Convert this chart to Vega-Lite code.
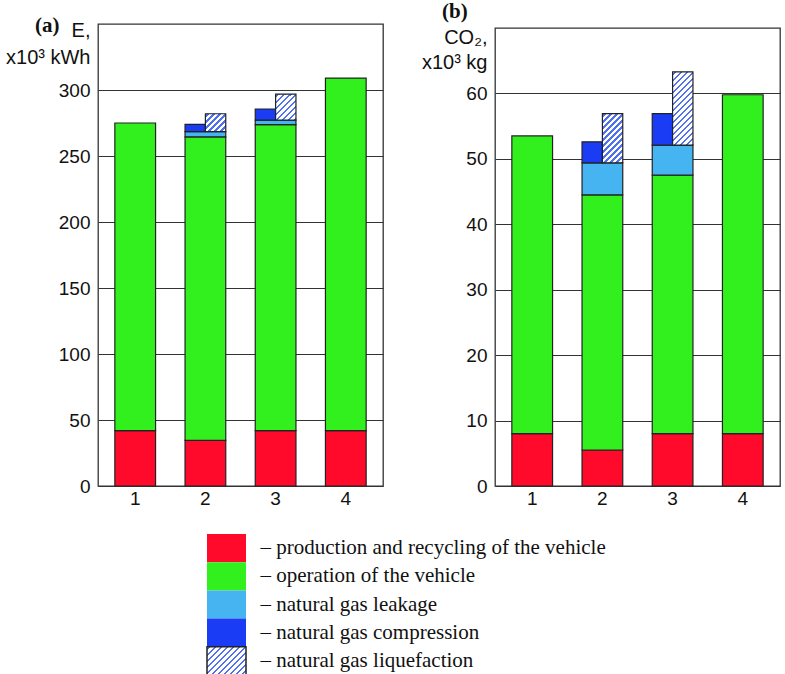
{
  "$schema": "https://vega.github.io/schema/vega-lite/v6.json",
  "padding": {"left": 4, "top": 0, "right": 0, "bottom": 0},
  "autosize": {"type": "pad"},
  "background": "white",
  "datasets": {
    "bars": [
      {"panel": "a", "bar": "1", "comp": "prod", "side": "F", "lo": 0, "hi": 42},
      {"panel": "a", "bar": "1", "comp": "op", "side": "F", "lo": 42, "hi": 275},
      {"panel": "a", "bar": "2", "comp": "prod", "side": "F", "lo": 0, "hi": 34.5},
      {"panel": "a", "bar": "2", "comp": "op", "side": "F", "lo": 34.5, "hi": 264.5},
      {"panel": "a", "bar": "2", "comp": "leak", "side": "F", "lo": 264.5, "hi": 268.5},
      {"panel": "a", "bar": "2", "comp": "comp", "side": "L", "lo": 268.5, "hi": 274},
      {"panel": "a", "bar": "2", "comp": "liq", "side": "R", "lo": 268.5, "hi": 282},
      {"panel": "a", "bar": "3", "comp": "prod", "side": "F", "lo": 0, "hi": 42},
      {"panel": "a", "bar": "3", "comp": "op", "side": "F", "lo": 42, "hi": 273.7},
      {"panel": "a", "bar": "3", "comp": "leak", "side": "F", "lo": 273.7, "hi": 277.2},
      {"panel": "a", "bar": "3", "comp": "comp", "side": "L", "lo": 277.2, "hi": 285.6},
      {"panel": "a", "bar": "3", "comp": "liq", "side": "R", "lo": 277.2, "hi": 296.8},
      {"panel": "a", "bar": "4", "comp": "prod", "side": "F", "lo": 0, "hi": 42},
      {"panel": "a", "bar": "4", "comp": "op", "side": "F", "lo": 42, "hi": 309},
      {"panel": "b", "bar": "1", "comp": "prod", "side": "F", "lo": 0, "hi": 8},
      {"panel": "b", "bar": "1", "comp": "op", "side": "F", "lo": 8, "hi": 53.5},
      {"panel": "b", "bar": "2", "comp": "prod", "side": "F", "lo": 0, "hi": 5.5},
      {"panel": "b", "bar": "2", "comp": "op", "side": "F", "lo": 5.5, "hi": 44.5},
      {"panel": "b", "bar": "2", "comp": "leak", "side": "F", "lo": 44.5, "hi": 49.4},
      {"panel": "b", "bar": "2", "comp": "comp", "side": "L", "lo": 49.4, "hi": 52.6},
      {"panel": "b", "bar": "2", "comp": "liq", "side": "R", "lo": 49.4, "hi": 56.9},
      {"panel": "b", "bar": "3", "comp": "prod", "side": "F", "lo": 0, "hi": 8},
      {"panel": "b", "bar": "3", "comp": "op", "side": "F", "lo": 8, "hi": 47.5},
      {"panel": "b", "bar": "3", "comp": "leak", "side": "F", "lo": 47.5, "hi": 52.1},
      {"panel": "b", "bar": "3", "comp": "comp", "side": "L", "lo": 52.1, "hi": 56.9},
      {"panel": "b", "bar": "3", "comp": "liq", "side": "R", "lo": 52.1, "hi": 63.3},
      {"panel": "b", "bar": "4", "comp": "prod", "side": "F", "lo": 0, "hi": 8},
      {"panel": "b", "bar": "4", "comp": "op", "side": "F", "lo": 8, "hi": 59.8}
    ],
    "legend": [
      {"comp": "prod", "label": "– production and recycling of the vehicle"},
      {"comp": "op", "label": "– operation of the vehicle"},
      {"comp": "leak", "label": "– natural gas leakage"},
      {"comp": "comp", "label": "– natural gas compression"},
      {"comp": "liq", "label": "– natural gas liquefaction"}
    ]
  },
  "vconcat": [
    {
      "hconcat": [
        {
          "width": 285,
          "height": 462,
          "data": {"name": "bars"},
          "transform": [{"filter": "datum.panel == 'a'"}],
          "title": {"text": "(a)", "anchor": "start", "frame": "group", "orient": "top", "font": "Liberation Serif", "fontWeight": "bold", "fontSize": 21, "color": "#111", "baseline": "alphabetic", "offset": 0, "dx": -63, "dy": 33},
          "encoding": {
            "x": {"field": "bar", "type": "nominal", "scale": {"paddingInner": 0.42, "paddingOuter": 0.24}, "axis": {"title": null, "labelAngle": 0, "ticks": false, "domain": false, "grid": false, "labelPadding": 3}},
            "y": {"field": "lo", "type": "quantitative", "scale": {"domain": [0, 350], "nice": false},
              "axis": {"values": [0, 50, 100, 150, 200, 250, 300], "title": ["E,", "x10³ kWh"], "titleAngle": 0, "titleAlign": "right", "titleBaseline": "alphabetic", "titleX": -8, "titleY": 12, "titleLineHeight": 27, "grid": true, "ticks": false, "domain": false, "labelPadding": 8}},
            "y2": {"field": "hi"}
          },
          "layer": [
            {
              "transform": [{"filter": "datum.side == 'F'"}],
              "mark": {"type": "bar", "stroke": "#222", "strokeWidth": 1.2},
              "encoding": {
                "fill": {"field": "comp", "type": "nominal", "scale": {"domain": ["prod", "op", "leak", "comp", "liq"], "range": ["#ff0a2a", "#32f01e", "#46b4f0", "#1a3cf5", "#ffffff"]}, "legend": null}
              }
            },
            {
              "transform": [{"filter": "datum.side != 'F'"}],
              "mark": {"type": "bar", "stroke": "#222", "strokeWidth": 1.2},
              "encoding": {
                "xOffset": {"field": "side", "type": "nominal", "scale": {"domain": ["L", "R"], "paddingInner": 0, "paddingOuter": 0}},
                "fill": {
                  "condition": [
                    {"test": "datum.comp == 'liq' && datum.bar == '2'", "value": {"gradient": "linear", "x1": 0, "y1": 0, "x2": 2.673, "y2": 2.338, "stops": [
                      {"offset": 0.01875, "color": "#fff"}, {"offset": 0.01875, "color": "#5070ee"}, {"offset": 0.04375, "color": "#5070ee"}, {"offset": 0.04375, "color": "#fff"},
                      {"offset": 0.08125, "color": "#fff"}, {"offset": 0.08125, "color": "#5070ee"}, {"offset": 0.10625, "color": "#5070ee"}, {"offset": 0.10625, "color": "#fff"},
                      {"offset": 0.14375, "color": "#fff"}, {"offset": 0.14375, "color": "#5070ee"}, {"offset": 0.16875, "color": "#5070ee"}, {"offset": 0.16875, "color": "#fff"},
                      {"offset": 0.20625, "color": "#fff"}, {"offset": 0.20625, "color": "#5070ee"}, {"offset": 0.23125, "color": "#5070ee"}, {"offset": 0.23125, "color": "#fff"},
                      {"offset": 0.26875, "color": "#fff"}, {"offset": 0.26875, "color": "#5070ee"}, {"offset": 0.29375, "color": "#5070ee"}, {"offset": 0.29375, "color": "#fff"},
                      {"offset": 0.33125, "color": "#fff"}, {"offset": 0.33125, "color": "#5070ee"}, {"offset": 0.35625, "color": "#5070ee"}, {"offset": 0.35625, "color": "#fff"},
                      {"offset": 0.39375, "color": "#fff"}, {"offset": 0.39375, "color": "#5070ee"}, {"offset": 0.41875, "color": "#5070ee"}, {"offset": 0.41875, "color": "#fff"}
                    ]}},
                    {"test": "datum.comp == 'liq'", "value": {"gradient": "linear", "x1": 0, "y1": 0, "x2": 1.758, "y2": 2.281, "stops": [
                      {"offset": 0.01875, "color": "#fff"}, {"offset": 0.01875, "color": "#5070ee"}, {"offset": 0.04375, "color": "#5070ee"}, {"offset": 0.04375, "color": "#fff"},
                      {"offset": 0.08125, "color": "#fff"}, {"offset": 0.08125, "color": "#5070ee"}, {"offset": 0.10625, "color": "#5070ee"}, {"offset": 0.10625, "color": "#fff"},
                      {"offset": 0.14375, "color": "#fff"}, {"offset": 0.14375, "color": "#5070ee"}, {"offset": 0.16875, "color": "#5070ee"}, {"offset": 0.16875, "color": "#fff"},
                      {"offset": 0.20625, "color": "#fff"}, {"offset": 0.20625, "color": "#5070ee"}, {"offset": 0.23125, "color": "#5070ee"}, {"offset": 0.23125, "color": "#fff"},
                      {"offset": 0.26875, "color": "#fff"}, {"offset": 0.26875, "color": "#5070ee"}, {"offset": 0.29375, "color": "#5070ee"}, {"offset": 0.29375, "color": "#fff"},
                      {"offset": 0.33125, "color": "#fff"}, {"offset": 0.33125, "color": "#5070ee"}, {"offset": 0.35625, "color": "#5070ee"}, {"offset": 0.35625, "color": "#fff"},
                      {"offset": 0.39375, "color": "#fff"}, {"offset": 0.39375, "color": "#5070ee"}, {"offset": 0.41875, "color": "#5070ee"}, {"offset": 0.41875, "color": "#fff"},
                      {"offset": 0.45625, "color": "#fff"}, {"offset": 0.45625, "color": "#5070ee"}, {"offset": 0.48125, "color": "#5070ee"}, {"offset": 0.48125, "color": "#fff"}
                    ]}}
                  ],
                  "field": "comp", "type": "nominal", "scale": {"domain": ["prod", "op", "leak", "comp", "liq"], "range": ["#ff0a2a", "#32f01e", "#46b4f0", "#1a3cf5", "#ffffff"]}, "legend": null
                }
              }
            }
          ]
        },
        {
          "vconcat": [
            {"width": 285, "height": 4, "data": {"values": []}, "mark": "point", "encoding": {}, "view": {"stroke": null}},
            {
              "width": 285,
              "height": 458,
              "data": {"name": "bars"},
              "transform": [{"filter": "datum.panel == 'b'"}],
              "title": {"text": "(b)", "anchor": "start", "frame": "group", "orient": "top", "font": "Liberation Serif", "fontWeight": "bold", "fontSize": 21, "color": "#111", "baseline": "alphabetic", "offset": 0, "dx": -53, "dy": 12},
              "encoding": {
                "x": {"field": "bar", "type": "nominal", "scale": {"paddingInner": 0.42, "paddingOuter": 0.24}, "axis": {"title": null, "labelAngle": 0, "ticks": false, "domain": false, "grid": false, "labelPadding": 3}},
                "y": {"field": "lo", "type": "quantitative", "scale": {"domain": [0, 70], "nice": false},
                  "axis": {"values": [0, 10, 20, 30, 40, 50, 60], "title": ["CO₂,", "x10³ kg"], "titleAngle": 0, "titleAlign": "right", "titleBaseline": "alphabetic", "titleX": -8, "titleY": 15, "titleLineHeight": 25, "grid": true, "ticks": false, "domain": false, "labelPadding": 8}},
                "y2": {"field": "hi"}
              },
              "layer": [
                {
                  "transform": [{"filter": "datum.side == 'F'"}],
                  "mark": {"type": "bar", "stroke": "#222", "strokeWidth": 1.2},
                  "encoding": {
                    "fill": {"field": "comp", "type": "nominal", "scale": {"domain": ["prod", "op", "leak", "comp", "liq"], "range": ["#ff0a2a", "#32f01e", "#46b4f0", "#1a3cf5", "#ffffff"]}, "legend": null}
                  }
                },
                {
                  "transform": [{"filter": "datum.side != 'F'"}],
                  "mark": {"type": "bar", "stroke": "#222", "strokeWidth": 1.2},
                  "encoding": {
                    "xOffset": {"field": "side", "type": "nominal", "scale": {"domain": ["L", "R"], "paddingInner": 0, "paddingOuter": 0}},
                    "fill": {
                      "condition": [
                        {"test": "datum.comp == 'liq' && datum.bar == '2'", "value": {"gradient": "linear", "x1": 0, "y1": 0, "x2": 0.694, "y2": 1.671, "stops": [
                          {"offset": 0.01875, "color": "#fff"}, {"offset": 0.01875, "color": "#5070ee"}, {"offset": 0.04375, "color": "#5070ee"}, {"offset": 0.04375, "color": "#fff"},
                          {"offset": 0.08125, "color": "#fff"}, {"offset": 0.08125, "color": "#5070ee"}, {"offset": 0.10625, "color": "#5070ee"}, {"offset": 0.10625, "color": "#fff"},
                          {"offset": 0.14375, "color": "#fff"}, {"offset": 0.14375, "color": "#5070ee"}, {"offset": 0.16875, "color": "#5070ee"}, {"offset": 0.16875, "color": "#fff"},
                          {"offset": 0.20625, "color": "#fff"}, {"offset": 0.20625, "color": "#5070ee"}, {"offset": 0.23125, "color": "#5070ee"}, {"offset": 0.23125, "color": "#fff"},
                          {"offset": 0.26875, "color": "#fff"}, {"offset": 0.26875, "color": "#5070ee"}, {"offset": 0.29375, "color": "#5070ee"}, {"offset": 0.29375, "color": "#fff"},
                          {"offset": 0.33125, "color": "#fff"}, {"offset": 0.33125, "color": "#5070ee"}, {"offset": 0.35625, "color": "#5070ee"}, {"offset": 0.35625, "color": "#fff"},
                          {"offset": 0.39375, "color": "#fff"}, {"offset": 0.39375, "color": "#5070ee"}, {"offset": 0.41875, "color": "#5070ee"}, {"offset": 0.41875, "color": "#fff"},
                          {"offset": 0.45625, "color": "#fff"}, {"offset": 0.45625, "color": "#5070ee"}, {"offset": 0.48125, "color": "#5070ee"}, {"offset": 0.48125, "color": "#fff"},
                          {"offset": 0.51875, "color": "#fff"}, {"offset": 0.51875, "color": "#5070ee"}, {"offset": 0.54375, "color": "#5070ee"}, {"offset": 0.54375, "color": "#fff"},
                          {"offset": 0.58125, "color": "#fff"}, {"offset": 0.58125, "color": "#5070ee"}, {"offset": 0.60625, "color": "#5070ee"}, {"offset": 0.60625, "color": "#fff"},
                          {"offset": 0.64375, "color": "#fff"}, {"offset": 0.64375, "color": "#5070ee"}, {"offset": 0.66875, "color": "#5070ee"}, {"offset": 0.66875, "color": "#fff"},
                          {"offset": 0.70625, "color": "#fff"}, {"offset": 0.70625, "color": "#5070ee"}, {"offset": 0.73125, "color": "#5070ee"}, {"offset": 0.73125, "color": "#fff"}
                        ]}},
                        {"test": "datum.comp == 'liq'", "value": {"gradient": "linear", "x1": 0, "y1": 0, "x2": 0.3376, "y2": 1.216, "stops": [
                          {"offset": 0.01875, "color": "#fff"}, {"offset": 0.01875, "color": "#5070ee"}, {"offset": 0.04375, "color": "#5070ee"}, {"offset": 0.04375, "color": "#fff"},
                          {"offset": 0.08125, "color": "#fff"}, {"offset": 0.08125, "color": "#5070ee"}, {"offset": 0.10625, "color": "#5070ee"}, {"offset": 0.10625, "color": "#fff"},
                          {"offset": 0.14375, "color": "#fff"}, {"offset": 0.14375, "color": "#5070ee"}, {"offset": 0.16875, "color": "#5070ee"}, {"offset": 0.16875, "color": "#fff"},
                          {"offset": 0.20625, "color": "#fff"}, {"offset": 0.20625, "color": "#5070ee"}, {"offset": 0.23125, "color": "#5070ee"}, {"offset": 0.23125, "color": "#fff"},
                          {"offset": 0.26875, "color": "#fff"}, {"offset": 0.26875, "color": "#5070ee"}, {"offset": 0.29375, "color": "#5070ee"}, {"offset": 0.29375, "color": "#fff"},
                          {"offset": 0.33125, "color": "#fff"}, {"offset": 0.33125, "color": "#5070ee"}, {"offset": 0.35625, "color": "#5070ee"}, {"offset": 0.35625, "color": "#fff"},
                          {"offset": 0.39375, "color": "#fff"}, {"offset": 0.39375, "color": "#5070ee"}, {"offset": 0.41875, "color": "#5070ee"}, {"offset": 0.41875, "color": "#fff"},
                          {"offset": 0.45625, "color": "#fff"}, {"offset": 0.45625, "color": "#5070ee"}, {"offset": 0.48125, "color": "#5070ee"}, {"offset": 0.48125, "color": "#fff"},
                          {"offset": 0.51875, "color": "#fff"}, {"offset": 0.51875, "color": "#5070ee"}, {"offset": 0.54375, "color": "#5070ee"}, {"offset": 0.54375, "color": "#fff"},
                          {"offset": 0.58125, "color": "#fff"}, {"offset": 0.58125, "color": "#5070ee"}, {"offset": 0.60625, "color": "#5070ee"}, {"offset": 0.60625, "color": "#fff"},
                          {"offset": 0.64375, "color": "#fff"}, {"offset": 0.64375, "color": "#5070ee"}, {"offset": 0.66875, "color": "#5070ee"}, {"offset": 0.66875, "color": "#fff"},
                          {"offset": 0.70625, "color": "#fff"}, {"offset": 0.70625, "color": "#5070ee"}, {"offset": 0.73125, "color": "#5070ee"}, {"offset": 0.73125, "color": "#fff"},
                          {"offset": 0.76875, "color": "#fff"}, {"offset": 0.76875, "color": "#5070ee"}, {"offset": 0.79375, "color": "#5070ee"}, {"offset": 0.79375, "color": "#fff"},
                          {"offset": 0.83125, "color": "#fff"}, {"offset": 0.83125, "color": "#5070ee"}, {"offset": 0.85625, "color": "#5070ee"}, {"offset": 0.85625, "color": "#fff"},
                          {"offset": 0.89375, "color": "#fff"}, {"offset": 0.89375, "color": "#5070ee"}, {"offset": 0.91875, "color": "#5070ee"}, {"offset": 0.91875, "color": "#fff"},
                          {"offset": 0.95625, "color": "#fff"}, {"offset": 0.95625, "color": "#5070ee"}, {"offset": 0.98125, "color": "#5070ee"}, {"offset": 0.98125, "color": "#fff"}
                        ]}}
                      ],
                      "field": "comp", "type": "nominal", "scale": {"domain": ["prod", "op", "leak", "comp", "liq"], "range": ["#ff0a2a", "#32f01e", "#46b4f0", "#1a3cf5", "#ffffff"]}, "legend": null
                    }
                  }
                }
              ]
            }
          ],
          "spacing": 0,
          "bounds": "flush"
        }
      ],
      "spacing": 112,
      "bounds": "flush"
    },
    {
      "hconcat": [
        {"width": 109, "height": 141, "data": {"values": []}, "mark": "point", "encoding": {}, "view": {"stroke": null}},
        {
          "width": 39,
          "height": 141,
          "data": {"name": "legend"},
          "view": {"stroke": null},
          "mark": {"type": "rect", "strokeWidth": 1.5},
          "encoding": {
            "y": {"field": "label", "type": "nominal", "sort": null, "scale": {"paddingInner": 0, "paddingOuter": 0},
              "axis": {"orient": "right", "title": null, "ticks": false, "domain": false, "grid": false, "labelPadding": 14, "labelFont": "Liberation Serif", "labelFontSize": 21, "labelLimit": 0, "labelColor": "#111"}},
            "fill": {
              "condition": {"test": "datum.comp == 'liq'", "value": {"gradient": "linear", "x1": 0, "y1": 0, "x2": 1.6046, "y2": 1.1726, "stops": [
                {"offset": 0.01875, "color": "#fff"}, {"offset": 0.01875, "color": "#5070ee"}, {"offset": 0.04375, "color": "#5070ee"}, {"offset": 0.04375, "color": "#fff"},
                {"offset": 0.08125, "color": "#fff"}, {"offset": 0.08125, "color": "#5070ee"}, {"offset": 0.10625, "color": "#5070ee"}, {"offset": 0.10625, "color": "#fff"},
                {"offset": 0.14375, "color": "#fff"}, {"offset": 0.14375, "color": "#5070ee"}, {"offset": 0.16875, "color": "#5070ee"}, {"offset": 0.16875, "color": "#fff"},
                {"offset": 0.20625, "color": "#fff"}, {"offset": 0.20625, "color": "#5070ee"}, {"offset": 0.23125, "color": "#5070ee"}, {"offset": 0.23125, "color": "#fff"},
                {"offset": 0.26875, "color": "#fff"}, {"offset": 0.26875, "color": "#5070ee"}, {"offset": 0.29375, "color": "#5070ee"}, {"offset": 0.29375, "color": "#fff"},
                {"offset": 0.33125, "color": "#fff"}, {"offset": 0.33125, "color": "#5070ee"}, {"offset": 0.35625, "color": "#5070ee"}, {"offset": 0.35625, "color": "#fff"},
                {"offset": 0.39375, "color": "#fff"}, {"offset": 0.39375, "color": "#5070ee"}, {"offset": 0.41875, "color": "#5070ee"}, {"offset": 0.41875, "color": "#fff"},
                {"offset": 0.45625, "color": "#fff"}, {"offset": 0.45625, "color": "#5070ee"}, {"offset": 0.48125, "color": "#5070ee"}, {"offset": 0.48125, "color": "#fff"},
                {"offset": 0.51875, "color": "#fff"}, {"offset": 0.51875, "color": "#5070ee"}, {"offset": 0.54375, "color": "#5070ee"}, {"offset": 0.54375, "color": "#fff"},
                {"offset": 0.58125, "color": "#fff"}, {"offset": 0.58125, "color": "#5070ee"}, {"offset": 0.60625, "color": "#5070ee"}, {"offset": 0.60625, "color": "#fff"},
                {"offset": 0.64375, "color": "#fff"}, {"offset": 0.64375, "color": "#5070ee"}, {"offset": 0.66875, "color": "#5070ee"}, {"offset": 0.66875, "color": "#fff"},
                {"offset": 0.70625, "color": "#fff"}, {"offset": 0.70625, "color": "#5070ee"}, {"offset": 0.73125, "color": "#5070ee"}, {"offset": 0.73125, "color": "#fff"}
              ]}},
              "field": "comp", "type": "nominal", "scale": {"domain": ["prod", "op", "leak", "comp", "liq"], "range": ["#ff0a2a", "#32f01e", "#46b4f0", "#1a3cf5", "#ffffff"]}, "legend": null
            },
            "stroke": {"condition": {"test": "datum.comp == 'liq'", "value": "#222"}, "value": null}
          }
        }
      ],
      "spacing": 0,
      "bounds": "flush"
    }
  ],
  "spacing": 25,
  "bounds": "full",
  "config": {
    "view": {"stroke": "#333", "strokeWidth": 1.3},
    "axis": {"labelFont": "Liberation Sans", "labelFontSize": 19, "labelColor": "#111", "titleFont": "Liberation Sans", "titleFontSize": 20, "titleFontWeight": "normal", "titleColor": "#111", "gridColor": "#333", "gridWidth": 1.2, "gridOpacity": 1}
  }
}
